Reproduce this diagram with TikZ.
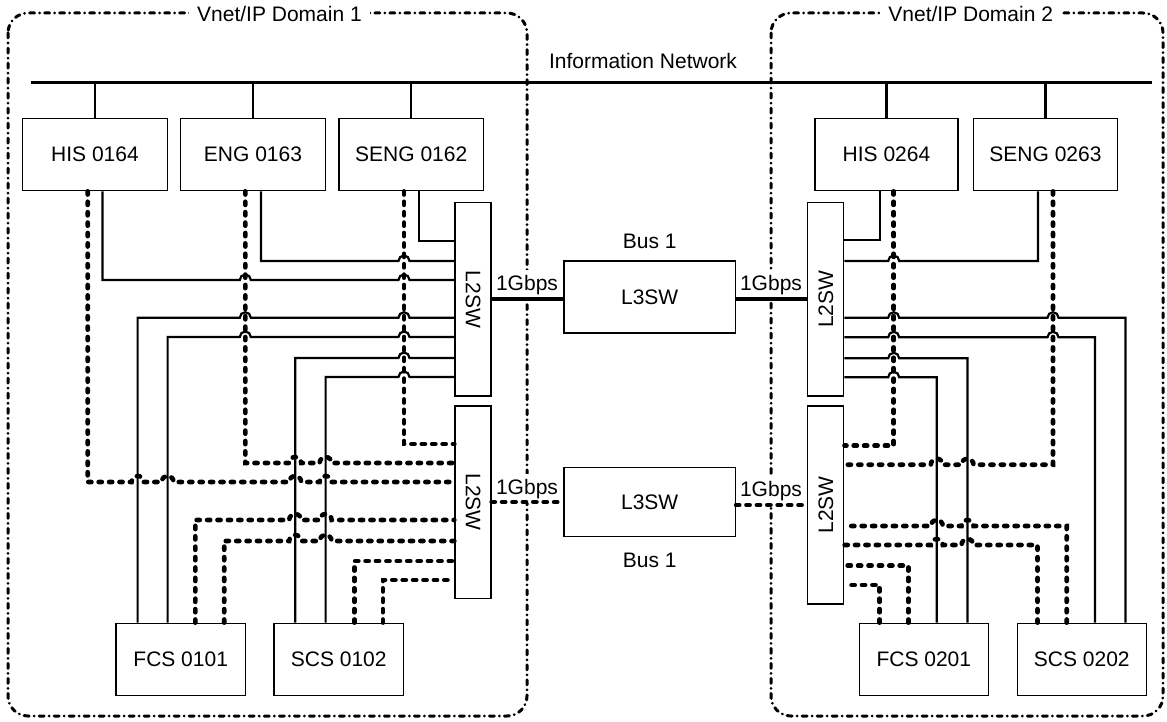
\documentclass[tikz,border=0pt]{standalone}
\usepackage{fontspec}
\setmainfont{Liberation Sans}
\newcommand\myfs{\fontsize{21}{25}\selectfont}
\tikzset{
  box/.style={draw, line width=1.3pt, inner sep=0pt, minimum height=72.4pt},
  topbox/.style={box, minimum width=144.4pt},
  botbox/.style={box, minimum width=129.2pt},
  swbox/.style={draw, line width=1.3pt, inner sep=0pt, minimum width=36pt},
  l3box/.style={draw, line width=1.3pt, inner sep=0pt, minimum width=171.4pt},
  solidc/.style={line width=2.2pt},
  dotc/.style={line width=4.6pt, line cap=round, dash pattern=on 3.2pt off 7.2pt},
  busline/.style={line width=2.6pt},
  linksolid/.style={line width=3.4pt},
  domainbox/.style={line width=3pt, line cap=round, dash pattern=on 5pt off 5pt on 0.01pt off 5pt, rounded corners=20pt},
  lbl/.style={inner sep=0pt},
  gbps/.style={fill=white, inner xsep=2pt, inner ysep=5pt, anchor=base},
}
\begin{document}
\begin{tikzpicture}[x=1pt,y=1pt, every node/.style={font=\myfs}]
\useasboundingbox (0,0) rectangle (1167,-722);

% ---------------- domains
\draw[domainbox] (8,-13) rectangle (527,-716);
\draw[domainbox] (771,-13) rectangle (1163,-716);
\node[lbl, fill=white, inner xsep=8pt, inner ysep=3pt, anchor=base] (d1lbl) at (279.5,-21.7) {Vnet/IP Domain 1};
\node[lbl, fill=white, inner xsep=8pt, inner ysep=3pt, anchor=base] (d2lbl) at (970.7,-22) {Vnet/IP Domain 2};

% ---------------- information network
\coordinate (infoL) at (31.4,-82.3);
\coordinate (infoR) at (1151.7,-82.3);
\draw[busline] (infoL) -- (infoR);
\node[lbl, anchor=base] (infotxt) at (643,-68.3) {Information Network};

% ---------------- boxes
\node[topbox] (his1) at (95,-154.5) {HIS 0164};
\node[topbox] (eng1) at (253,-154.5) {ENG 0163};
\node[topbox] (seng1) at (411.2,-154.5) {SENG 0162};
\node[topbox, minimum width=143pt] (his2) at (886.5,-154.5) {HIS 0264};
\node[topbox] (seng2) at (1045.5,-154.5) {SENG 0263};

\node[botbox] (fcs1) at (180.7,-659.5) {FCS 0101};
\node[botbox] (scs1) at (338.7,-659.5) {SCS 0102};
\node[botbox] (fcs2) at (923.8,-659.5) {FCS 0201};
\node[botbox] (scs2) at (1081.8,-659.5) {SCS 0202};

\node[swbox, minimum height=193.3pt] (l2a) at (473,-299.4) {};
\node[swbox, minimum height=192.3pt] (l2b) at (473,-502.2) {};
\node[swbox, minimum height=193.3pt] (l2c) at (825.8,-299.4) {};
\node[swbox, minimum height=198pt] (l2d) at (825.8,-505) {};
\node[rotate=-90, lbl] (l2atxt) at (l2a) {L2SW};
\node[rotate=-90, lbl] (l2btxt) at (l2b) {L2SW};
\node[rotate=90, lbl] (l2ctxt) at (l2c) {L2SW};
\node[rotate=90, lbl] (l2dtxt) at (l2d) {L2SW};

\node[l3box, minimum height=72pt] (l3a) at (649.7,-297) {L3SW};
\node[l3box, minimum height=69.2pt] (l3b) at (649.7,-502.1) {L3SW};
\node[lbl, anchor=base] (bus1a) at (649.7,-248) {Bus 1};
\node[lbl, anchor=base] (bus1b) at (649.7,-567.7) {Bus 1};

% ---------------- drops from information network
\draw[solidc] (his1.north) -- (his1.north |- infoL);
\draw[solidc] (eng1.north) -- (eng1.north |- infoL);
\draw[solidc] (seng1.north) -- (seng1.north |- infoL);
\draw[solidc] (his2.north) -- (his2.north |- infoL);
\draw[solidc] (seng2.north) -- (seng2.north |- infoL);

% ---------------- left upper L2SW (solid)
\draw[solidc] (seng1.south -| 419,0) -- (419,-241) -- (l2a.west |- 0,-241);
\draw[solidc] (eng1.south -| 261,0) -- (261,-261)
  \foreach \h in {404}{ -- (\h-5.5,-261) arc[start angle=180,end angle=0,radius=5.5pt]} -- (l2a.west |- 0,-261);
\draw[solidc] (his1.south -| 102.5,0) -- (102.5,-280)
  \foreach \h in {245.3,404}{ -- (\h-5.5,-280) arc[start angle=180,end angle=0,radius=5.5pt]} -- (l2a.west |- 0,-280);
\draw[solidc] (fcs1.north -| 137.6,0) -- (137.6,-317.7)
  \foreach \h in {245.3,404}{ -- (\h-5.5,-317.7) arc[start angle=180,end angle=0,radius=5.5pt]} -- (l2a.west |- 0,-317.7);
\draw[solidc] (fcs1.north -| 167.6,0) -- (167.6,-337)
  \foreach \h in {245.3,404}{ -- (\h-5.5,-337) arc[start angle=180,end angle=0,radius=5.5pt]} -- (l2a.west |- 0,-337);
\draw[solidc] (scs1.north -| 295.2,0) -- (295.2,-358)
  \foreach \h in {404}{ -- (\h-5.5,-358) arc[start angle=180,end angle=0,radius=5.5pt]} -- (l2a.west |- 0,-358);
\draw[solidc] (scs1.north -| 325.6,0) -- (325.6,-377)
  \foreach \h in {404}{ -- (\h-5.5,-377) arc[start angle=180,end angle=0,radius=5.5pt]} -- (l2a.west |- 0,-377);

% ---------------- left lower L2SW (dotted)
\draw[dotc] (seng1.south -| 404,0) -- (404,-444) -- (l2b.west |- 0,-444);
\draw[dotc] (eng1.south -| 245.3,0) -- (245.3,-463)
  \foreach \h in {295.2,325.6}{ -- (\h-6,-463) arc[start angle=180,end angle=0,radius=6pt]} -- (l2b.west |- 0,-463);
\draw[dotc] (his1.south -| 87.7,0) -- (87.7,-482)
  \foreach \h in {137.6,167.6,295.2,325.6}{ -- (\h-6,-482) arc[start angle=180,end angle=0,radius=6pt]} -- (l2b.west |- 0,-482);
\draw[dotc] (fcs1.north -| 195.3,0) -- (195.3,-520)
  \foreach \h in {295.2,325.6}{ -- (\h-6,-520) arc[start angle=180,end angle=0,radius=6pt]} -- (l2b.west |- 0,-520);
\draw[dotc] (fcs1.north -| 224.2,0) -- (224.2,-541)
  \foreach \h in {295.2,325.6}{ -- (\h-6,-541) arc[start angle=180,end angle=0,radius=6pt]} -- (l2b.west |- 0,-541);
\draw[dotc] (scs1.north -| 354.4,0) -- (354.4,-561) -- (l2b.west |- 0,-561);
\draw[dotc] (scs1.north -| 382.9,0) -- (382.9,-580) -- (l2b.west |- 0,-580);

% ---------------- right upper L2SW (solid)
\draw[solidc] (his2.south -| 880,0) -- (880,-240.3) -- (l2c.east |- 0,-240.3);
\draw[solidc] (seng2.south -| 1038,0) -- (1038,-261)
  \foreach \h in {893.7}{ -- (\h+5.5,-261) arc[start angle=0,end angle=180,radius=5.5pt]} -- (l2c.east |- 0,-261);
\draw[solidc] (scs2.north -| 1125.5,0) -- (1125.5,-317.7)
  \foreach \h in {1053,893.7}{ -- (\h+5.5,-317.7) arc[start angle=0,end angle=180,radius=5.5pt]} -- (l2c.east |- 0,-317.7);
\draw[solidc] (scs2.north -| 1095,0) -- (1095,-337.3)
  \foreach \h in {1053,893.7}{ -- (\h+5.5,-337.3) arc[start angle=0,end angle=180,radius=5.5pt]} -- (l2c.east |- 0,-337.3);
\draw[solidc] (fcs2.north -| 967.5,0) -- (967.5,-358.3)
  \foreach \h in {893.7}{ -- (\h+5.5,-358.3) arc[start angle=0,end angle=180,radius=5.5pt]} -- (l2c.east |- 0,-358.3);
\draw[solidc] (fcs2.north -| 936.8,0) -- (936.8,-377.3)
  \foreach \h in {893.7}{ -- (\h+5.5,-377.3) arc[start angle=0,end angle=180,radius=5.5pt]} -- (l2c.east |- 0,-377.3);

% ---------------- right lower L2SW (dotted)
\draw[dotc] (his2.south -| 893.7,0) -- (893.7,-445.7) -- (l2d.east |- 0,-445.7);
\draw[dotc] (seng2.south -| 1053,0) -- (1053,-464.7)
  \foreach \h in {967.5,936.8}{ -- (\h+6,-464.7) arc[start angle=0,end angle=180,radius=6pt]} -- (l2d.east |- 0,-464.7);
\draw[dotc] (scs2.north -| 1066.7,0) -- (1066.7,-526)
  \foreach \h in {967.5,936.8}{ -- (\h+6,-526) arc[start angle=0,end angle=180,radius=6pt]} -- (l2d.east |- 0,-526);
\draw[dotc] (scs2.north -| 1037.5,0) -- (1037.5,-545)
  \foreach \h in {967.5,936.8}{ -- (\h+6,-545) arc[start angle=0,end angle=180,radius=6pt]} -- (l2d.east |- 0,-545);
\draw[dotc] (fcs2.north -| 908.3,0) -- (908.3,-565.7) -- (l2d.east |- 0,-565.7);
\draw[dotc] (fcs2.north -| 879.5,0) -- (879.5,-585) -- (l2d.east |- 0,-585);

% ---------------- 1Gbps links
\node[gbps] (g1) at (527,-290) {1Gbps};
\node[gbps] (g2) at (771,-290) {1Gbps};
\node[gbps] (g3) at (527,-494) {1Gbps};
\node[gbps] (g4) at (771,-496.7) {1Gbps};
\draw[linksolid] (l2a.east |- 0,-299) -- (l3a.west |- 0,-299);
\draw[linksolid] (l3a.east |- 0,-299) -- (l2c.west |- 0,-299);
\draw[dotc] (l2b.east |- 0,-502) -- (l3b.west |- 0,-502);
\draw[dotc] (l3b.east |- 0,-505) -- (l2d.west |- 0,-505);
\end{tikzpicture}
\end{document}
